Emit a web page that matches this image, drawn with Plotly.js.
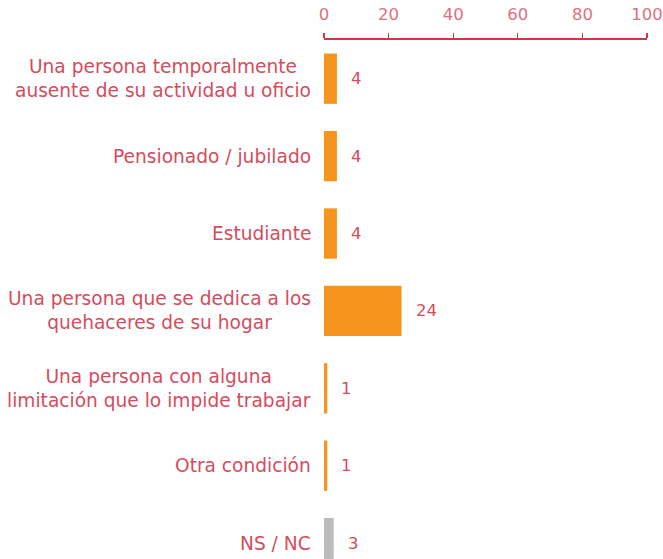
<!DOCTYPE html>
<html>
<head>
<meta charset="utf-8">
<script src="https://cdn.plot.ly/plotly-3.0.1.min.js"></script>
<style>html,body{margin:0;padding:0;background:#fff;}</style>
</head>
<body>
<div id="chart" style="width:663px;height:559px;"></div>
<script>
const categories = [
  "Una persona temporalmente<br>ausente de su actividad u oficio",
  "Pensionado / jubilado",
  "Estudiante",
  "Una persona que se dedica a los<br>quehaceres de su hogar",
  "Una persona con alguna<br>limitación que lo impide trabajar",
  "Otra condición",
  "NS / NC"
];
const values = [4, 4, 4, 24, 1, 1, 3];
const barColors = ["#f7941d","#f7941d","#f7941d","#f7941d","#f7941d","#f7941d","#bcbcbc"];
const tickVals = [0, 20, 40, 60, 80, 100];

const FONT = "'DejaVu Sans', sans-serif";
const labelColor = "#d64c5d";

const catIdx = categories.map((c, i) => i);

const trace = {
  type: "bar",
  orientation: "h",
  x: values,
  y: catIdx,
  marker: {color: barColors},
  width: 0.65,
  hoverinfo: "none"
};

const annotations = [];
categories.forEach((c, i) => {
  annotations.push({
    xref: "paper", yref: "y", x: 0, y: i,
    xanchor: "right", yanchor: "middle", align: "center",
    xshift: -11,
    text: c, showarrow: false,
    font: {family: FONT, size: 18.6, color: labelColor}
  });
  annotations.push({
    xref: "x", yref: "y", x: values[i], y: i,
    xanchor: "left", yanchor: "middle",
    xshift: 12,
    text: String(values[i]), showarrow: false,
    font: {family: FONT, size: 16.5, color: labelColor}
  });
});

const layout = {
  width: 663, height: 559,
  margin: {l: 324, r: 16, t: 40, b: 0, pad: 0},
  paper_bgcolor: "#fff", plot_bgcolor: "#fff",
  showlegend: false,
  xaxis: {
    side: "top", range: [0, 100], tickvals: tickVals,
    showgrid: false, zeroline: false,
    showline: true, linecolor: "#d03545", linewidth: 2,
    ticks: "outside", ticklen: 5, tickcolor: "#d03545", tickwidth: 1.2,
    ticklabelstandoff: 6,
    tickfont: {family: FONT, size: 16.5, color: "#e07080"},
    fixedrange: true
  },
  yaxis: {
    range: [6.205, -0.5], showticklabels: false,
    showgrid: false, zeroline: false, showline: false, ticks: "",
    fixedrange: true
  },
  annotations: annotations
};

Plotly.newPlot("chart", [trace], layout, {displayModeBar: false, staticPlot: true});
</script>
</body>
</html>
